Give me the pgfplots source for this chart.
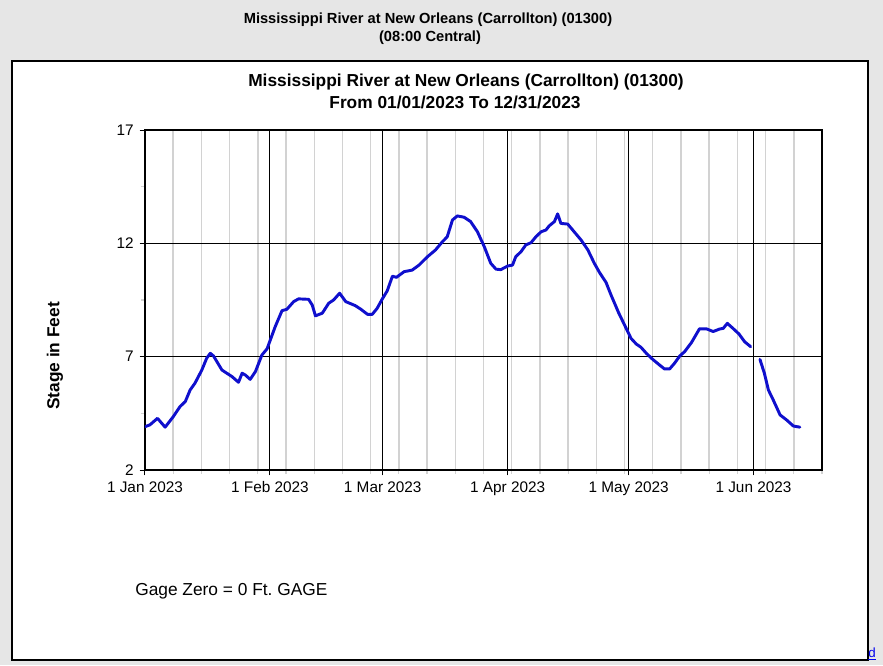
\documentclass[border=0pt]{standalone}
\usepackage{pgfplots}
\pgfplotsset{compat=1.18}
\usepackage{fontspec}
\setmainfont{Liberation Sans}
\definecolor{bg}{RGB}{230,230,230}
\definecolor{riverblue}{RGB}{15,15,205}
\definecolor{mgrid}{RGB}{210,210,210}
\definecolor{linkblue}{RGB}{0,0,238}

\begin{document}
\begin{tikzpicture}
\begin{scope}[x=0.75pt,y=-0.75pt]
\fill[bg] (0,0) rectangle (883,665);
\draw[fill=white, line width=1.4pt] (12,61) rectangle (868,660);
\node[font=\bfseries\fontsize{11}{13}\selectfont] at (428,20) {Mississippi River at New Orleans (Carrollton) (01300)};
\node[font=\bfseries\fontsize{11}{13}\selectfont] at (430,38) {(08:00 Central)};
\node[font=\bfseries\fontsize{13}{15}\selectfont] at (466,82) {Mississippi River at New Orleans (Carrollton) (01300)};
\node[font=\bfseries\fontsize{13}{15}\selectfont] at (455,102) {From 01/01/2023 To 12/31/2023};
\node[font=\bfseries\fontsize{13}{15}\selectfont, rotate=90] at (55,356) {Stage in Feet};
\node[font=\fontsize{13}{15}\selectfont, anchor=west, inner sep=0pt] at (135,591) {Gage Zero = 0 Ft.\ GAGE};
\node[font=\fontsize{10}{12}\selectfont, text=linkblue, inner sep=0pt] at (872,654) {\underline{d}};
\end{scope}
\begin{axis}[
  at={(108.75pt,-352.5pt)}, anchor=south west,
  scale only axis, width=507.75pt, height=255pt,
  xmin=0, xmax=168, ymin=2, ymax=17,
  xtick={0,31,59,90,120,151},
  xticklabels={1 Jan 2023,1 Feb 2023,1 Mar 2023,1 Apr 2023,1 May 2023,1 Jun 2023},
  minor xtick={7,14,21,28,35,42,49,56,63,70,77,84,91,98,105,112,119,126,133,140,147,154,161,168},
  ytick={2,7,12,17},
  minor ytick={4.5,9.5,14.5},
  xmajorgrids, ymajorgrids, xminorgrids, yminorgrids=false,
  major grid style={black, line width=0.75pt},
  minor x grid style={mgrid, line width=1.1pt},
  tick align=outside,
  xtick pos=bottom, ytick pos=left,
  major tick length=4pt, minor tick length=3pt,
  major tick style={black, line width=0.75pt},
  minor tick style={mgrid, line width=0.9pt},
  axis line style={black, line width=1.1pt},
  /pgf/number format/assume math mode=true,
  ticklabel style={font=\fontsize{11.5}{13}\selectfont},
  xticklabel style={yshift=-1pt},
  yticklabel style={xshift=-1pt},
]
\addplot[riverblue, line width=2.2pt, line join=round, line cap=round] coordinates {
(0,3.91) (1.2,3.99) (3.1,4.28) (5,3.89) (7,4.35) (8.7,4.8) (10,5.02) (11.2,5.53)
(12.4,5.83) (14.1,6.41) (15.3,6.93) (16.2,7.15) (17,7.03) (19.1,6.41) (20.3,6.27)
(21.6,6.12) (23.2,5.87) (24.1,6.27) (24.9,6.19) (26.1,6.0) (27.4,6.34) (29,7.07)
(30.3,7.35) (32.3,8.32) (34,9.03) (35.2,9.09) (36.9,9.43) (38.1,9.55) (40.6,9.53)
(41.5,9.28) (42.3,8.8) (44,8.92) (45.6,9.36) (46.8,9.5) (48.3,9.8) (49.8,9.43)
(52.2,9.25) (53.5,9.1) (55.2,8.87) (56.4,8.87) (57.6,9.13) (58.9,9.55) (60.1,9.9)
(61.4,10.55) (62.4,10.5) (64.3,10.75) (66.3,10.82) (68,11.04) (70.1,11.41)
(72.1,11.71) (73.8,12.07) (75,12.29) (76.3,13.03) (77.5,13.21) (79.2,13.15)
(80.8,12.96) (82.5,12.51) (84.2,11.85) (85.8,11.12) (87.1,10.86) (88.3,10.84)
(90,11.0) (91.2,11.04) (92,11.41) (93.3,11.63) (94.5,11.93) (95.8,12.03) (97,12.29)
(98.3,12.51) (99.5,12.59) (100.3,12.77) (101.6,12.96) (102.4,13.3) (103.2,12.88)
(104.9,12.85) (106.5,12.51) (108.2,12.15) (109.9,11.71) (111.5,11.12) (112.8,10.71)
(114.4,10.28) (115.7,9.7) (117.5,8.95) (119.4,8.25) (120.6,7.81) (121.9,7.56)
(123.1,7.41) (124.4,7.15) (126.0,6.88) (127.7,6.63) (128.9,6.46) (130.2,6.46)
(131.4,6.71) (132.7,7.03) (133.9,7.22) (135.6,7.62) (137.6,8.23) (139.3,8.23)
(141,8.11) (142.6,8.22) (143.5,8.25) (144.5,8.47) (145.9,8.25) (147.4,8.0)
(148.8,7.66) (150.3,7.44)
};
\addplot[riverblue, line width=2.2pt, line join=round, line cap=round] coordinates {
(152.6,6.88) (153.7,6.27) (154.7,5.53) (155.9,5.09) (157.6,4.43) (159.2,4.21)
(160.9,3.94) (162.5,3.89)
};
\end{axis}
\pgfresetboundingbox
\path (0pt,0pt) rectangle (662.25pt,-498.75pt);
\end{tikzpicture}
\end{document}
